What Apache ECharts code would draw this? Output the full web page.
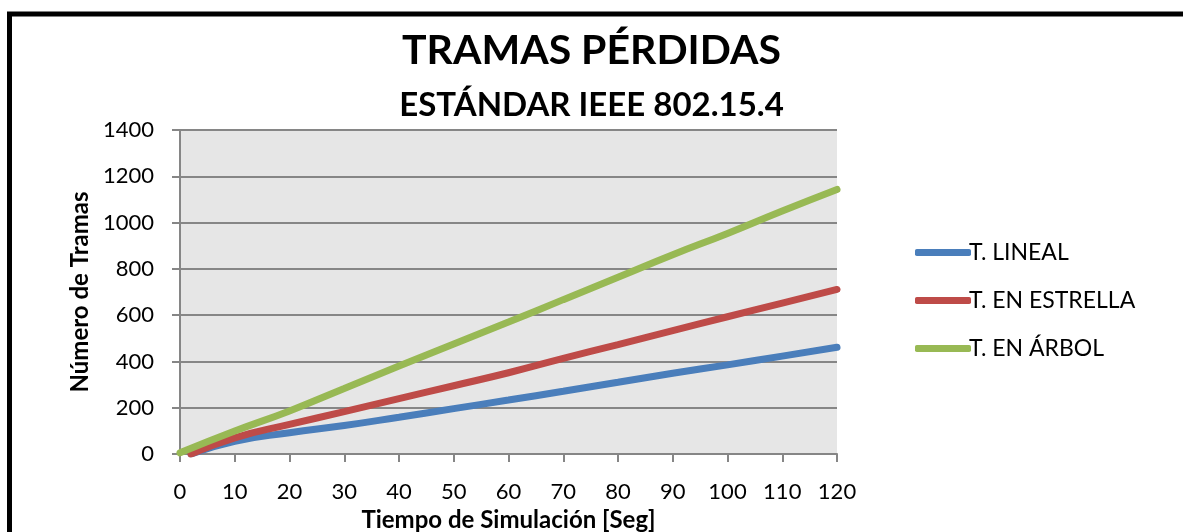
<!DOCTYPE html>
<html>
<head>
<meta charset="utf-8">
<script src="https://cdn.jsdelivr.net/npm/echarts@6/dist/echarts.min.js"></script>
<style>
  html, body { margin: 0; padding: 0; background: #fff; }
  #chart { width: 1183px; height: 532px; }
</style>
</head>
<body>
<div id="chart"></div>
<script>
  // Tramas pérdidas - estándar IEEE 802.15.4
  const tiempo = [0, 10, 20, 30, 40, 50, 60, 70, 80, 90, 100, 110, 120];
  const lineal = [0, 55, 92, 123, 159, 196, 233, 271, 310, 349, 385, 423, 461];
  const estrella = [0, 70, 128, 183, 239, 295, 351, 413, 473, 533, 593, 652, 711];
  const arbol = [5, 99, 186, 283, 380, 475, 570, 667, 764, 861, 953, 1050, 1143];
  // first points of lineal / estrella start a little right of the origin
  const inicio = [2, 10, 20, 30, 40, 50, 60, 70, 80, 90, 100, 110, 120];

  const seriesArr = [
    { name: 'T. LINEAL', x: inicio, data: lineal, color: '#4a7ebb' },
    { name: 'T. EN ESTRELLA', x: inicio, data: estrella, color: '#be4b48' },
    { name: 'T. EN ÁRBOL', x: tiempo, data: arbol, color: '#98b954' },
  ];

  const font = 'Lato, "Open Sans", sans-serif';
  const chart = echarts.init(document.getElementById('chart'));

  const option = {
    animation: false,
    backgroundColor: '#fff',
    textStyle: { fontFamily: font },
    title: [
      {
        text: 'TRAMAS PÉRDIDAS',
        left: 'center',
        top: 25,
        textStyle: { fontSize: 41, fontWeight: 'bold', color: '#000', fontFamily: font },
      },
      {
        text: 'ESTÁNDAR IEEE 802.15.4',
        left: 'center',
        top: 84,
        textStyle: { fontSize: 33, fontWeight: 'bold', color: '#000', fontFamily: font },
      },
    ],
    graphic: [
      {
        type: 'rect',
        shape: { x: 9.5, y: 14, width: 1300, height: 700 },
        style: { fill: 'none', stroke: '#000', lineWidth: 5 },
        silent: true,
      },
    ],
    legend: {
      orient: 'vertical',
      left: 910,
      top: 236,
      itemGap: 25,
      itemWidth: 56,
      itemHeight: 7,
      icon: 'roundRect',
      textStyle: { fontSize: 23, color: '#000', fontFamily: font, padding: [0, 0, 0, -7] },
      data: seriesArr.map(s => s.name),
    },
    grid: {
      left: 180,
      right: 346,
      top: 130,
      bottom: 78,
      outerBoundsMode: 'none',
      containLabel: false,
      show: true,
      backgroundColor: '#e6e6e6',
      borderWidth: 0,
    },
    xAxis: {
      type: 'value',
      min: 0,
      max: 120,
      interval: 10,
      name: 'Tiempo de Simulación [Seg]',
      nameLocation: 'middle',
      nameGap: 47,
      nameTextStyle: { fontSize: 24, fontWeight: 'bold', color: '#000', fontFamily: font },
      axisLine: { show: true, lineStyle: { color: '#868686', width: 2 } },
      axisTick: { show: true, length: 8, lineStyle: { color: '#868686', width: 2 } },
      axisLabel: { fontSize: 22, color: '#000', margin: 27, fontFamily: font },
      splitLine: { show: false },
    },
    yAxis: {
      type: 'value',
      min: 0,
      max: 1400,
      interval: 200,
      name: 'Número de Tramas',
      nameLocation: 'middle',
      nameGap: 84,
      nameTextStyle: { fontSize: 24, fontWeight: 'bold', color: '#000', fontFamily: font },
      axisLine: { show: true, lineStyle: { color: '#868686', width: 2 } },
      axisTick: { show: true, length: 8, lineStyle: { color: '#868686', width: 2 } },
      axisLabel: { fontSize: 22, color: '#000', margin: 26, fontFamily: font, formatter: v => String(v) },
      splitLine: { show: true, lineStyle: { color: '#868686', width: 2 } },
    },
    series: seriesArr.map(s => ({
      name: s.name,
      type: 'line',
      smooth: 0.5,
      showSymbol: false,
      symbol: 'none',
      color: s.color,
      lineStyle: { width: 7, color: s.color, cap: 'round' },
      data: s.x.map((t, i) => [t, s.data[i]]),
    })),
  };

  chart.setOption(option);
</script>
</body>
</html>
